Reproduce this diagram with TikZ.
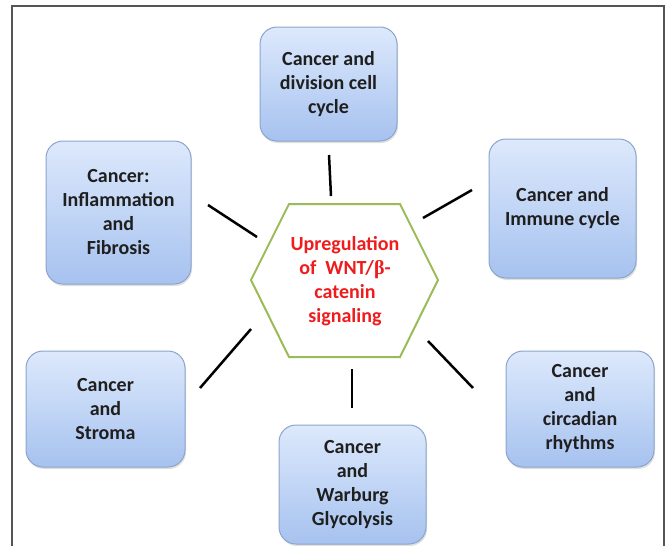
\documentclass[tikz,border=0pt]{standalone}
\usepackage{fontspec}
\setmainfont{Carlito}
\newfontfamily\betafont{Liberation Serif}
\usetikzlibrary{shadows}
\definecolor{boxtop}{HTML}{DDE9FC}
\definecolor{boxbot}{HTML}{A6C2EF}
\definecolor{boxline}{HTML}{8CA5CC}
\definecolor{hexgreen}{HTML}{9BBB59}
\definecolor{framegray}{HTML}{555555}
\definecolor{sigred}{HTML}{EE1C1C}
\begin{document}
\begin{tikzpicture}[x=1pt,y=-1pt,
  topic/.style={rounded corners=17pt, draw=boxline, line width=1pt,
    top color=boxtop, bottom color=boxbot, align=center,
    font=\bfseries\fontsize{20}{24}\selectfont, text=black!88, inner sep=0pt,
    drop shadow={opacity=0.25, shadow xshift=1pt, shadow yshift=-2pt}},
  hub/.style={align=center, font=\bfseries\fontsize{20}{24}\selectfont, text=sigred, inner sep=0pt},
  hexline/.style={draw=hexgreen, line width=2pt, line join=miter},
  link/.style={line width=2.5pt, black}]
\useasboundingbox (0,0) rectangle (667,546);
\fill[white] (0,0) rectangle (667,546);
% frame
\draw[framegray, line width=1.5pt] (12,560) -- (12,6) -- (664,6) -- (664,560);

% hexagon
\coordinate (h1) at (289,204);
\coordinate (h2) at (400,204);
\coordinate (h3) at (438,280);
\coordinate (h4) at (400,357);
\coordinate (h5) at (289,357);
\coordinate (h6) at (251,280);
\draw[hexline] (h1) -- (h2) -- (h3) -- (h4) -- (h5) -- (h6) -- cycle;
\node[hub] (hub) at (345,281) {Upregulation\\of\ \ WNT/{\betafont β}-\\catenin\\signaling};

% topic boxes
\node[topic, minimum width=137pt, minimum height=114pt] (cycle) at (328.5,84) {Cancer and\\division cell\\cycle};
\node[topic, minimum width=145pt, minimum height=143pt] (inflam) at (118.5,212.5) {Cancer:\\Inflammation\\and\\Fibrosis};
\node[topic, minimum width=147pt, minimum height=139pt] (immune) at (562.5,208.5) {Cancer and\\Immune cycle};
\node[topic, minimum width=159pt, minimum height=116pt] (stroma) at (105.5,409) {Cancer\\and\\Stroma};
\node[topic, minimum width=148pt, minimum height=116pt] (circ) at (580,409) {Cancer\\and\\circadian\\rhythms};
\node[topic, minimum width=147pt, minimum height=119pt] (warburg) at (352.5,484.5) {Cancer\\and\\Warburg\\Glycolysis};

% connectors (short free segments between hub and boxes)
\coordinate (a1) at (329,155); \coordinate (b1) at (331,196);
\coordinate (a2) at (472,190); \coordinate (b2) at (423,218);
\coordinate (a3) at (208,205); \coordinate (b3) at (257,237);
\coordinate (a4) at (200,388); \coordinate (b4) at (251,329);
\coordinate (a5) at (352,408); \coordinate (b5) at (352,369);
\coordinate (a6) at (473,388); \coordinate (b6) at (428,341);
\draw[link] (a1) -- (b1);
\draw[link] (a2) -- (b2);
\draw[link] (a3) -- (b3);
\draw[link] (a4) -- (b4);
\draw[link] (a5) -- (b5);
\draw[link] (a6) -- (b6);
\end{tikzpicture}
\end{document}
